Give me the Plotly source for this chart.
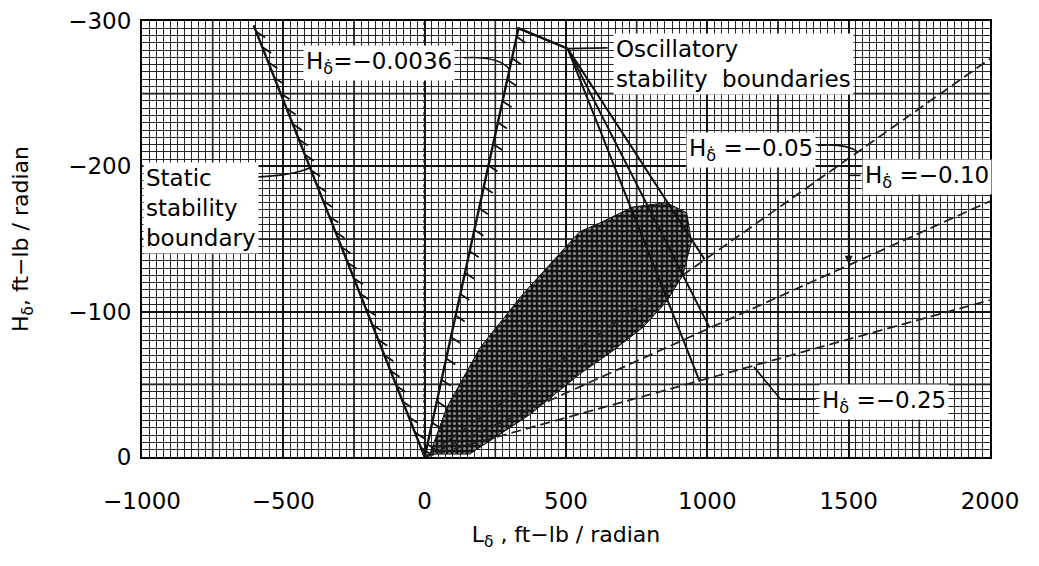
import plotly.graph_objects as go

# ---------------- data ----------------
# static stability boundary (left branch of the V)
static_L = [-605, 0]
static_H = [-297, 0]
# oscillatory boundary H_ddot = -0.0036 (right branch of the V and top segment)
osc0036_L = [0, 332, 506]
osc0036_H = [0, -295, -281]
# common upper point of oscillatory boundaries
top_L = 506
top_H = -281
# lower ends of the oscillatory boundaries (on the dashed lines)
osc_end_L = [990, 1008, 973]
osc_end_H = [-136, -89, -52]
# dashed lines from origin, value of H at L = 2000
dash_names = ["-0.05", "-0.10", "-0.25"]
dash_end_L = [2000, 2000, 2000]
dash_end_H = [-274, -176, -108]
# shaded region outline
shade_L = [18, 78, 195, 347, 548, 619, 736, 856, 927, 944, 913, 856, 771, 665, 548, 371, 159, 18]
shade_H = [-2, -34, -75, -112, -155, -161, -172, -175, -168, -148, -125, -107, -89, -73, -57, -29, -2, -2]

x_ticks = [-1000, -500, 0, 500, 1000, 1500, 2000]
y_ticks = [0, -100, -200, -300]

FONT = "DejaVu Sans"
PXL = 848 / 3000.0   # px per L unit (for hatch styling)
PXH = 436 / 300.0    # px per H unit


def hatch(L0, H0, L1, H1, n, dx_px=9, dy_px=6):
    xs, ys = [], []
    for i in range(n):
        t = (i + 0.6) / n
        L = L0 + (L1 - L0) * t
        H = H0 + (H1 - H0) * t
        xs += [L, L + dx_px / PXL, None]
        ys += [H, H + dy_px / PXH, None]
    return xs, ys


fig = go.Figure()

# shaded region
fig.add_trace(go.Scatter(
    x=shade_L, y=shade_H, mode="lines", fill="toself",
    fillcolor="#1a1a1a",
    fillpattern=dict(shape=".", fgcolor="#ffffff", bgcolor="#141414", size=5, solidity=0.3),
    line=dict(color="#111", width=1), hoverinfo="skip", showlegend=False))

# dashed lines
for nm, Le, He in zip(dash_names, dash_end_L, dash_end_H):
    fig.add_trace(go.Scatter(x=[0, Le], y=[0, He], mode="lines",
                             line=dict(color="#222", width=1.8, dash="10px,5px"),
                             name=nm, showlegend=False, hoverinfo="skip"))

# static boundary
fig.add_trace(go.Scatter(x=static_L, y=static_H, mode="lines",
                         line=dict(color="#111", width=2.4), showlegend=False))
hx, hy = hatch(static_L[1], static_H[1], static_L[0], static_H[0], 28)
fig.add_trace(go.Scatter(x=hx, y=hy, mode="lines", line=dict(color="#111", width=1.8),
                         showlegend=False, hoverinfo="skip"))

# -0.0036 boundary
fig.add_trace(go.Scatter(x=osc0036_L, y=osc0036_H, mode="lines",
                         line=dict(color="#111", width=2.4), showlegend=False))
hx, hy = hatch(osc0036_L[0], osc0036_H[0], osc0036_L[1], osc0036_H[1], 20)
fig.add_trace(go.Scatter(x=hx, y=hy, mode="lines", line=dict(color="#111", width=1.8),
                         showlegend=False, hoverinfo="skip"))

# oscillatory boundaries
for Le, He in zip(osc_end_L, osc_end_H):
    fig.add_trace(go.Scatter(x=[top_L, Le], y=[top_H, He], mode="lines",
                             line=dict(color="#111", width=2), showlegend=False))

# ---------------- annotations ----------------
afont = dict(family=FONT, size=23, color="black")
ann = []
ann.append(dict(x=-995, y=-171, xanchor="left", yanchor="middle", align="left",
                text="Static<br>stability<br>boundary", showarrow=False,
                bgcolor="white", font=afont, borderpad=2))
ann.append(dict(x=-163, y=-271, text="H<sub>δ̇</sub>=−0.0036", showarrow=False,
                bgcolor="white", font=afont, borderpad=2))
ann.append(dict(x=665, y=-270.5, xanchor="left", align="left",
                text="Oscillatory<br>stability  boundaries", showarrow=False,
                bgcolor="white", font=afont, borderpad=2))
ann.append(dict(x=1153, y=-211.5, text="H<sub>δ̇</sub> =−0.05", showarrow=False,
                bgcolor="white", font=afont, borderpad=2))
ann.append(dict(x=1776, y=-193, text="H<sub>δ̇</sub> =−0.10", showarrow=False,
                bgcolor="white", font=afont, borderpad=2))
ann.append(dict(x=1624, y=-38, text="H<sub>δ̇</sub> =−0.25", showarrow=False,
                bgcolor="white", font=afont, borderpad=2))
# arrow for -0.10
ann.append(dict(x=1500, y=-133, ax=1500, ay=-193.8, axref="x", ayref="y",
                text=" ", showarrow=True, arrowhead=2, arrowsize=1, arrowwidth=1.6,
                arrowcolor="#111"))

shapes = []
# leaders
lead = dict(color="#111", width=1.6)
shapes.append(dict(type="path", xref="x", yref="y",
                   path="M -633,-192.5 Q -470,-193 -406,-199", line=lead))
shapes.append(dict(type="path", xref="x", yref="y",
                   path="M 138,-274.7 Q 260,-276 299,-267", line=lead))
shapes.append(dict(type="line", xref="x", yref="y", x0=647, y0=-281.5, x1=506, y1=-281,
                   line=lead))
shapes.append(dict(type="path", xref="x", yref="y",
                   path="M 1390,-214.4 Q 1490,-216 1532,-210", line=lead))
shapes.append(dict(type="line", xref="x", yref="y", x0=1542, y0=-193.8, x1=1500, y1=-193.8,
                   line=lead))
shapes.append(dict(type="path", xref="x", yref="y",
                   path="M 1383,-39.7 L 1259,-39.7 L 1165,-62", line=lead))
# x = 0 dotted reference line
shapes.append(dict(type="line", xref="x", yref="y", x0=0, x1=0, y0=0, y1=-300,
                   line=dict(color="#111", width=2.5, dash="dot"), layer="below"))
# medium graph-paper lines
for v in range(-750, 2000, 250):
    if v % 500 != 0:
        shapes.append(dict(type="line", xref="x", yref="paper", x0=v, x1=v, y0=0, y1=1,
                           line=dict(color="#111", width=1.6), layer="below"))
for v in range(-250, 0, 50):
    if v % 100 != 0:
        shapes.append(dict(type="line", xref="paper", yref="y", x0=0, x1=1, y0=v, y1=v,
                           line=dict(color="#111", width=1.6), layer="below"))

tfont = dict(family=FONT, size=23, color="black")
fig.update_layout(
    width=1039, height=566,
    margin=dict(l=134, r=57, t=13, b=117, autoexpand=False),
    paper_bgcolor="white", plot_bgcolor="white",
    annotations=ann, shapes=shapes,
    xaxis=dict(range=[-1000, 2000], tickvals=x_ticks, showgrid=True, automargin=False,
               gridcolor="#111", gridwidth=2, zeroline=False, ticklabeloverflow="allow",
               minor=dict(dtick=25, showgrid=True, gridcolor="#262626", gridwidth=1),
               ticks="outside", ticklen=22, tickcolor="rgba(0,0,0,0)",
               tickfont=tfont, showline=True, linecolor="black", linewidth=2, mirror=True,
               title=dict(text="L<sub>δ</sub> , ft−lb / radian",
                          font=dict(family=FONT, size=22, color="black"), standoff=14)),
    yaxis=dict(range=[0, -300], tickvals=y_ticks, showgrid=True, automargin=False,
               gridcolor="#111", gridwidth=2, zeroline=False, ticklabeloverflow="allow",
               minor=dict(dtick=5, showgrid=True, gridcolor="#262626", gridwidth=1),
               ticks="outside", ticklen=4, tickcolor="rgba(0,0,0,0)",
               tickfont=tfont, showline=True, linecolor="black", linewidth=2, mirror=True,
               title=dict(text="H<sub>δ</sub>, ft−lb / radian",
                          font=dict(family=FONT, size=22, color="black"), standoff=34)),
)

fig.write_html("out.html")
